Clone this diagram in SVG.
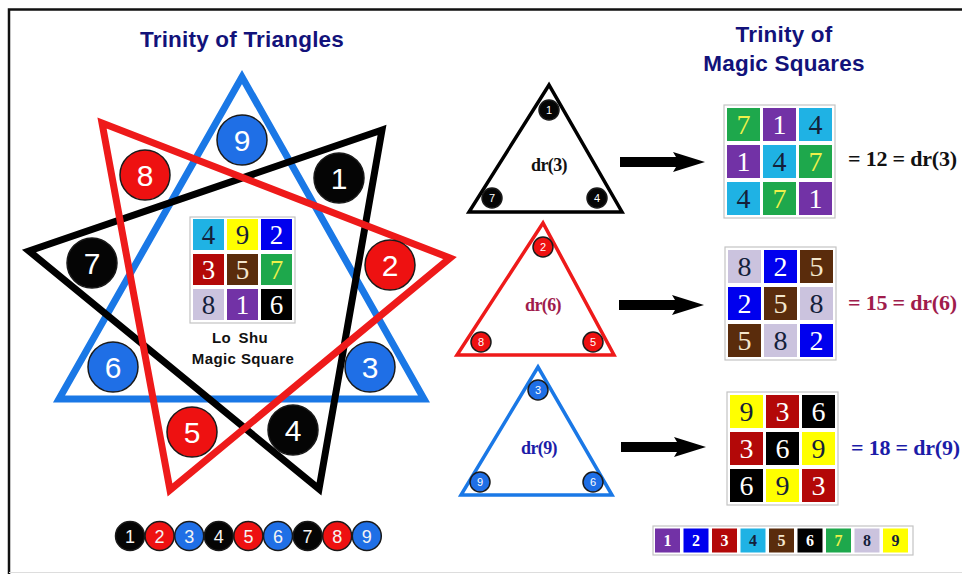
<svg xmlns="http://www.w3.org/2000/svg" xmlns:xlink="http://www.w3.org/1999/xlink" width="962" height="574" viewBox="0 0 962 574">
<defs>
<style>
.title{font-family:"Liberation Sans",Arial,sans-serif;font-weight:bold;font-size:22.5px;fill:#12127a;text-anchor:middle;letter-spacing:0.2px}
.lbl{font-family:"Liberation Sans",Arial,sans-serif;font-weight:bold;font-size:15px;fill:#111;text-anchor:middle;letter-spacing:0.4px}
.tri{fill:none;stroke-width:7;stroke-linejoin:miter;stroke-miterlimit:10}
.stri{fill:none;stroke-width:3.5;stroke-linejoin:miter;stroke-miterlimit:10}
.bk{stroke:#000}.rd{stroke:#ee1a1a}.bl{stroke:#1a78e6}
.cb{fill:#050505}.cr{fill:#ee1111}.cu{fill:#1f6fe6}
.big circle,.leg circle,.sm circle{stroke:#1a1a1a;stroke-width:1.5}
.big text{font-family:"Liberation Sans",Arial,sans-serif;font-size:30px;fill:#fff;text-anchor:middle}
.leg text{font-family:"Liberation Sans",Arial,sans-serif;font-size:18px;fill:#f4f4f4;text-anchor:middle}
.sm text{font-family:"Liberation Sans",Arial,sans-serif;font-size:11px;fill:#fff;text-anchor:middle}
.dr{font-family:"Liberation Serif","Times New Roman",serif;font-weight:bold;font-size:18px;text-anchor:middle;letter-spacing:-0.6px}
.eq{font-family:"Liberation Serif","Times New Roman",serif;font-weight:bold;font-size:22px;letter-spacing:-0.2px}
.frame{fill:#fff;stroke:#c4c4c4;stroke-width:1.2}
.cell text{font-family:"Liberation Serif","Times New Roman",serif;font-size:28px;text-anchor:middle}
.ls text{font-size:27px}
.lg text{font-family:"Liberation Serif","Times New Roman",serif;font-weight:bold;font-size:16px;text-anchor:middle}
.k1{fill:#7232a6}.k2{fill:#0000ee}.k3{fill:#b30808}.k4{fill:#1fb2e4}.k5{fill:#5a2c0c}.k6{fill:#000}.k7{fill:#1ea84c}.k8{fill:#cbc3de}.k9{fill:#ffff00}
.tw{fill:#fff}.td{fill:#14203a}.ty{fill:#eef04a}.tb{fill:#f3e6cc}
</style>
<path id="arrow" d="M0,-5 L56,-5 L53,-10 L85,0 L53,10 L56,5 L0,5 Z" fill="#000"/>
</defs>
<rect width="962" height="574" fill="#fff"/>
<path d="M9,574 V9.5 H962" fill="none" stroke="#111" stroke-width="2.5"/>
<line x1="9" y1="572.5" x2="962" y2="572.5" stroke="#ddd" stroke-width="1"/>

<g id="title-triangles"><text class="title" x="242" y="47">Trinity of Triangles</text></g>
<g id="title-squares">
<text class="title" x="784" y="42">Trinity of</text>
<text class="title" x="784" y="71">Magic Squares</text>
</g>

<g id="star">
<polygon class="tri bl" points="242,77 59,399 424,399"/>
<polygon class="tri bk" points="382,130 29,251 319,489"/>
<polygon class="tri rd" points="102,123 450,258 170,490"/>
</g>

<g id="star-numbers" class="big">
<g id="n9"><circle class="cu" cx="242" cy="140" r="25"/><text x="242" y="151">9</text></g>
<g id="n8"><circle class="cr" cx="145" cy="175" r="25"/><text x="145" y="186">8</text></g>
<g id="n1"><circle class="cb" cx="339" cy="178" r="25"/><text x="339" y="189">1</text></g>
<g id="n7"><circle class="cb" cx="92" cy="263" r="25"/><text x="92" y="274">7</text></g>
<g id="n2"><circle class="cr" cx="390" cy="265" r="25"/><text x="390" y="276">2</text></g>
<g id="n6"><circle class="cu" cx="113" cy="367" r="25"/><text x="113" y="378">6</text></g>
<g id="n3"><circle class="cu" cx="370" cy="367" r="25"/><text x="370" y="378">3</text></g>
<g id="n5"><circle class="cr" cx="192" cy="432" r="25"/><text x="192" y="443">5</text></g>
<g id="n4"><circle class="cb" cx="293" cy="430" r="25"/><text x="293" y="441">4</text></g>
</g>

<g id="loshu" transform="translate(190,217)">
<rect class="frame" x="0" y="0" width="105" height="106"/>
<g class="cell ls">
<rect class="k4" x="3" y="2" width="31" height="31"/><text class="td" x="18.5" y="27">4</text>
<rect class="k9" x="37" y="2" width="31" height="31"/><text class="td" x="52.5" y="27">9</text>
<rect class="k2" x="71" y="2" width="31" height="31"/><text class="tw" x="86.5" y="27">2</text>
<rect class="k3" x="3" y="37" width="31" height="31"/><text class="tw" x="18.5" y="62">3</text>
<rect class="k5" x="37" y="37" width="31" height="31"/><text class="tb" x="52.5" y="62">5</text>
<rect class="k7" x="71" y="37" width="31" height="31"/><text class="ty" x="86.5" y="62">7</text>
<rect class="k8" x="3" y="72" width="31" height="31"/><text class="td" x="18.5" y="97">8</text>
<rect class="k1" x="37" y="72" width="31" height="31"/><text class="tw" x="52.5" y="97">1</text>
<rect class="k6" x="71" y="72" width="31" height="31"/><text class="tw" x="86.5" y="97">6</text>
</g>
</g>
<g id="loshu-label">
<text class="lbl" x="240" y="343" word-spacing="3">Lo Shu</text>
<text class="lbl" x="243" y="364">Magic Square</text>
</g>

<g id="legend-circles" class="leg">
<circle class="cb" cx="130" cy="536" r="14.5"/><text x="130" y="543">1</text>
<circle class="cr" cx="159.6" cy="536" r="14.5"/><text x="159.6" y="543">2</text>
<circle class="cu" cx="189.2" cy="536" r="14.5"/><text x="189.2" y="543">3</text>
<circle class="cb" cx="218.8" cy="536" r="14.5"/><text x="218.8" y="543">4</text>
<circle class="cr" cx="248.4" cy="536" r="14.5"/><text x="248.4" y="543">5</text>
<circle class="cu" cx="278" cy="536" r="14.5"/><text x="278" y="543">6</text>
<circle class="cb" cx="307.6" cy="536" r="14.5"/><text x="307.6" y="543">7</text>
<circle class="cr" cx="337.2" cy="536" r="14.5"/><text x="337.2" y="543">8</text>
<circle class="cu" cx="366.8" cy="536" r="14.5"/><text x="366.8" y="543">9</text>
</g>

<g id="tri-3">
<polygon class="stri bk" points="549,85 469,212 622,212"/>
<g class="sm">
<circle class="cb" cx="549" cy="110" r="10"/><text x="549" y="114">1</text>
<circle class="cb" cx="492" cy="198" r="10"/><text x="492" y="202">7</text>
<circle class="cb" cx="597" cy="198" r="10"/><text x="597" y="202">4</text>
</g>
<text class="dr" x="549" y="171" fill="#111">dr(3)</text>
</g>
<g id="tri-6">
<polygon class="stri rd" points="543,223 457,355 614,355"/>
<g class="sm">
<circle class="cr" cx="543" cy="247" r="10"/><text x="543" y="251">2</text>
<circle class="cr" cx="481" cy="342" r="10"/><text x="481" y="346">8</text>
<circle class="cr" cx="593" cy="342" r="10"/><text x="593" y="346">5</text>
</g>
<text class="dr" x="543" y="311" fill="#a01c4c">dr(6)</text>
</g>
<g id="tri-9">
<polygon class="stri bl" points="538,367 461,495 612,495"/>
<g class="sm">
<circle class="cu" cx="538" cy="390" r="10"/><text x="538" y="394">3</text>
<circle class="cu" cx="480" cy="482" r="10"/><text x="480" y="486">9</text>
<circle class="cu" cx="593" cy="482" r="10"/><text x="593" y="486">6</text>
</g>
<text class="dr" x="539" y="454" fill="#1c1ca8">dr(9)</text>
</g>

<g id="connectors">
<use xlink:href="#arrow" href="#arrow" x="620" y="162"/>
<use xlink:href="#arrow" href="#arrow" x="619" y="305"/>
<use xlink:href="#arrow" href="#arrow" x="621" y="447"/>
</g>

<g id="square-3" transform="translate(724,105)">
<rect class="frame" x="0" y="0" width="111" height="113"/>
<g class="cell">
<rect class="k7" x="3" y="3" width="33" height="33"/><text class="ty" x="19.5" y="29">7</text>
<rect class="k1" x="39" y="3" width="33" height="33"/><text class="tw" x="55.5" y="29">1</text>
<rect class="k4" x="75" y="3" width="33" height="33"/><text class="td" x="91.5" y="29">4</text>
<rect class="k1" x="3" y="40" width="33" height="33"/><text class="tw" x="19.5" y="66">1</text>
<rect class="k4" x="39" y="40" width="33" height="33"/><text class="td" x="55.5" y="66">4</text>
<rect class="k7" x="75" y="40" width="33" height="33"/><text class="ty" x="91.5" y="66">7</text>
<rect class="k4" x="3" y="77" width="33" height="33"/><text class="td" x="19.5" y="103">4</text>
<rect class="k7" x="39" y="77" width="33" height="33"/><text class="ty" x="55.5" y="103">7</text>
<rect class="k1" x="75" y="77" width="33" height="33"/><text class="tw" x="91.5" y="103">1</text>
</g>
</g>
<g id="square-6" transform="translate(725,247)">
<rect class="frame" x="0" y="0" width="111" height="113"/>
<g class="cell">
<rect class="k8" x="3" y="3" width="33" height="33"/><text class="td" x="19.5" y="29">8</text>
<rect class="k2" x="39" y="3" width="33" height="33"/><text class="tw" x="55.5" y="29">2</text>
<rect class="k5" x="75" y="3" width="33" height="33"/><text class="tb" x="91.5" y="29">5</text>
<rect class="k2" x="3" y="40" width="33" height="33"/><text class="tw" x="19.5" y="66">2</text>
<rect class="k5" x="39" y="40" width="33" height="33"/><text class="tb" x="55.5" y="66">5</text>
<rect class="k8" x="75" y="40" width="33" height="33"/><text class="td" x="91.5" y="66">8</text>
<rect class="k5" x="3" y="77" width="33" height="33"/><text class="tb" x="19.5" y="103">5</text>
<rect class="k8" x="39" y="77" width="33" height="33"/><text class="td" x="55.5" y="103">8</text>
<rect class="k2" x="75" y="77" width="33" height="33"/><text class="tw" x="91.5" y="103">2</text>
</g>
</g>
<g id="square-9" transform="translate(727,392)">
<rect class="frame" x="0" y="0" width="111" height="113"/>
<g class="cell">
<rect class="k9" x="3" y="3" width="33" height="33"/><text class="td" x="19.5" y="29">9</text>
<rect class="k3" x="39" y="3" width="33" height="33"/><text class="tw" x="55.5" y="29">3</text>
<rect class="k6" x="75" y="3" width="33" height="33"/><text class="tw" x="91.5" y="29">6</text>
<rect class="k3" x="3" y="40" width="33" height="33"/><text class="tw" x="19.5" y="66">3</text>
<rect class="k6" x="39" y="40" width="33" height="33"/><text class="tw" x="55.5" y="66">6</text>
<rect class="k9" x="75" y="40" width="33" height="33"/><text class="td" x="91.5" y="66">9</text>
<rect class="k6" x="3" y="77" width="33" height="33"/><text class="tw" x="19.5" y="103">6</text>
<rect class="k9" x="39" y="77" width="33" height="33"/><text class="td" x="55.5" y="103">9</text>
<rect class="k3" x="75" y="77" width="33" height="33"/><text class="tw" x="91.5" y="103">3</text>
</g>
</g>

<g id="equations">
<text class="eq" x="848" y="166" fill="#111">= 12 = dr(3)</text>
<text class="eq" x="848" y="310" fill="#a01c4c">= 15 = dr(6)</text>
<text class="eq" x="851" y="455" fill="#1c1ca8">= 18 = dr(9)</text>
</g>

<g id="legend-squares" class="lg" transform="translate(653,526)">
<rect class="frame" x="0" y="0" width="260" height="29"/>
<rect class="k1" x="2" y="2.5" width="25" height="24"/><text class="tw" x="14.5" y="20">1</text>
<rect class="k2" x="30.5" y="2.5" width="25" height="24"/><text class="tw" x="43" y="20">2</text>
<rect class="k3" x="59" y="2.5" width="25" height="24"/><text class="tw" x="71.5" y="20">3</text>
<rect class="k4" x="87.5" y="2.5" width="25" height="24"/><text class="td" x="100" y="20">4</text>
<rect class="k5" x="116" y="2.5" width="25" height="24"/><text class="tb" x="128.5" y="20">5</text>
<rect class="k6" x="144.5" y="2.5" width="25" height="24"/><text class="tw" x="157" y="20">6</text>
<rect class="k7" x="173" y="2.5" width="25" height="24"/><text class="ty" x="185.5" y="20">7</text>
<rect class="k8" x="201.5" y="2.5" width="25" height="24"/><text class="td" x="214" y="20">8</text>
<rect class="k9" x="230" y="2.5" width="25" height="24"/><text class="td" x="242.5" y="20">9</text>
</g>
</svg>
